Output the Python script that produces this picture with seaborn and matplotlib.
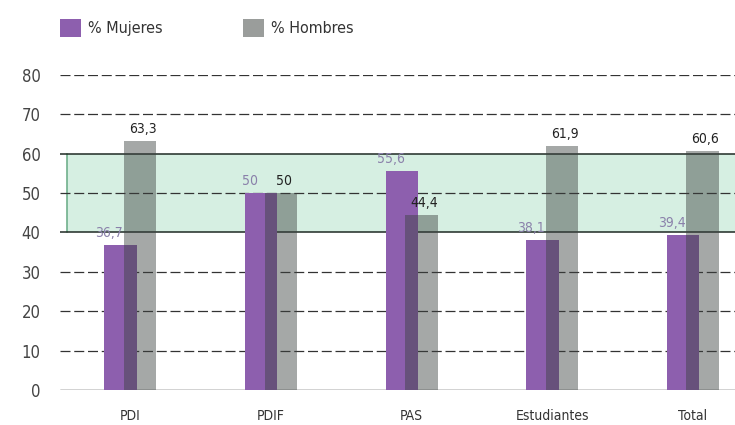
import matplotlib
matplotlib.use("Agg")
import matplotlib.pyplot as plt
from matplotlib.patches import Patch
import numpy as np
import pandas as pd
import seaborn as sns

categorias = ["PDI", "PDIF", "PAS", "Estudiantes", "Total"]
mujeres = [36.7, 50, 55.6, 38.1, 39.4]
hombres = [63.3, 50, 44.4, 61.9, 60.6]
etiquetas_mujeres = ["36,7", "50", "55,6", "38,1", "39,4"]
etiquetas_hombres = ["63,3", "50", "44,4", "61,9", "60,6"]
series = ["% Mujeres", "% Hombres"]
yticks = [0, 10, 20, 30, 40, 50, 60, 70, 80]

sns.set_theme(style="white")
plt.rcParams["font.family"] = ["DejaVu Sans"]
plt.rcParams["font.stretch"] = "condensed"

COL_M = "#8d5fae"
COL_H = "#3c4240"
ALPHA_H = 0.46
COL_LBL_M = "#8a80aa"

pos = np.arange(len(categorias))
df_m = pd.DataFrame({"x": pos - 0.07, "y": mujeres})
df_h = pd.DataFrame({"x": pos + 0.07, "y": hombres})

fig = plt.figure(figsize=(7.35, 4.25), dpi=100)
ax = fig.add_axes([60 / 735, 35 / 425, 1 - 60 / 735, 315 / 425])

# dashed reference lines
for v in yticks:
    if v == 0:
        ax.axhline(v, color="#222222", lw=1.0, zorder=1)
    elif v in (40, 60):
        ax.axhline(v, color="#1f2a24", lw=1.1, zorder=1)
    else:
        ax.axhline(v, color="#333333", lw=0.9, ls=(0, (8, 3)), zorder=1)

sns.barplot(data=df_m, x="x", y="y", native_scale=True, width=0.23,
            color=COL_M, saturation=1, ax=ax, zorder=2, linewidth=0, errorbar=None)
sns.barplot(data=df_h, x="x", y="y", native_scale=True, width=0.23,
            color=COL_H, saturation=1, ax=ax, zorder=3, linewidth=0, errorbar=None)
for p in ax.containers[1]:
    p.set_alpha(ALPHA_H)

# parity band 40-60 %
ax.axhspan(40, 60, xmin=0.01, xmax=1.0, color="#d6efe2", zorder=0, lw=0)
ax.axvline(-0.5 + 0.01 * 4.8, ymin=40 / 80, ymax=60 / 80, color="#6fb08c", lw=1.2, zorder=0.5)

for i in range(len(categorias)):
    ax.text(pos[i] - 0.15, mujeres[i] + 1.3, etiquetas_mujeres[i], ha="center", va="bottom",
            fontsize=10, color=COL_LBL_M, zorder=5)
    ax.text(pos[i] + 0.09, hombres[i] + 1.3, etiquetas_hombres[i], ha="center", va="bottom",
            fontsize=10, color="#222222", zorder=5)

ax.set_xlim(-0.5, 4.3)
ax.set_ylim(0, 80)
ax.set_yticks(yticks)
ax.set_yticklabels([str(v) for v in yticks], fontsize=12, color="#444444")
ax.set_xticks(pos)
ax.set_xticklabels(categorias, fontsize=10, color="#333333")
ax.tick_params(axis="x", length=0, pad=14)
ax.tick_params(axis="y", length=0, pad=14)
ax.set_xlabel("")
ax.set_ylabel("")
for s in ax.spines.values():
    s.set_visible(False)

handles = [Patch(facecolor=COL_M, edgecolor="none"),
           Patch(facecolor="#9a9d9b", edgecolor="none")]
fig.legend(handles, series, loc="upper left", bbox_to_anchor=(46 / 735, 1.0 - 5 / 425),
           ncol=2, frameon=False, fontsize=11.5, handlelength=1.3, handleheight=1.3,
           columnspacing=5.0, handletextpad=0.45, labelcolor="#333333")

fig.savefig("out.png", dpi=100, facecolor="white")
